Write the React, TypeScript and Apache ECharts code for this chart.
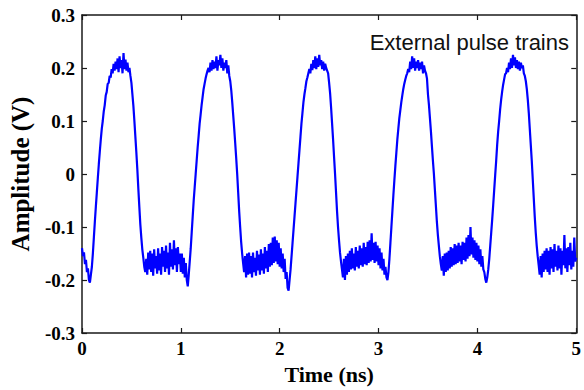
import React, { useEffect, useRef } from "react";
import * as echarts from "echarts";

// Sampling step of the trace (ns)
const STEP = 0.01;

// Amplitude (V) per 1-ns period, sampled every 0.01 ns
const period0 = [
  -0.14, -0.155, -0.148, -0.17, -0.162, -0.185, -0.178, -0.2, -0.205, -0.19,
  -0.175, -0.15, -0.12, -0.09, -0.062, -0.035, -0.008, 0.018, 0.042, 0.065,
  0.085, 0.1, 0.118, 0.13, 0.148, 0.155, 0.17, 0.172, 0.185, 0.182,
  0.198, 0.19, 0.208, 0.195, 0.212, 0.198, 0.218, 0.192, 0.222, 0.2,
  0.215, 0.19, 0.228, 0.198, 0.216, 0.195, 0.21, 0.192, 0.2, 0.185,
  0.172, 0.15, 0.128, 0.1, 0.07, 0.04, 0.008, -0.028, -0.062, -0.095,
  -0.12, -0.142, -0.158, -0.175, -0.185, -0.16, -0.19, -0.148, -0.18, -0.145,
  -0.185, -0.15, -0.192, -0.142, -0.178, -0.155, -0.188, -0.14, -0.182, -0.15,
  -0.19, -0.138, -0.175, -0.145, -0.185, -0.135, -0.178, -0.148, -0.19, -0.13,
  -0.175, -0.142, -0.18, -0.125, -0.172, -0.14, -0.185, -0.138, -0.17, -0.15,
];
const period1 = [
  -0.185, -0.15, -0.188, -0.158, -0.195, -0.168, -0.2, -0.212, -0.19, -0.165,
  -0.14, -0.11, -0.08, -0.05, -0.025, 0.0, 0.025, 0.05, 0.072, 0.095,
  0.112, 0.13, 0.145, 0.16, 0.17, 0.18, 0.188, 0.195, 0.2, 0.192,
  0.21, 0.195, 0.215, 0.198, 0.212, 0.2, 0.222, 0.195, 0.215, 0.205,
  0.225, 0.2, 0.218, 0.195, 0.21, 0.2, 0.215, 0.19, 0.205, 0.185,
  0.175, 0.158, 0.135, 0.11, 0.085, 0.058, 0.03, 0.0, -0.035, -0.07,
  -0.1, -0.128, -0.15, -0.168, -0.185, -0.155, -0.195, -0.15, -0.19, -0.148,
  -0.188, -0.155, -0.195, -0.148, -0.185, -0.158, -0.192, -0.145, -0.182, -0.152,
  -0.19, -0.142, -0.182, -0.15, -0.188, -0.138, -0.178, -0.145, -0.185, -0.132,
  -0.175, -0.13, -0.172, -0.12, -0.168, -0.118, -0.165, -0.125, -0.17, -0.13,
];
const period2 = [
  -0.175, -0.14, -0.178, -0.15, -0.185, -0.16, -0.198, -0.185, -0.215, -0.22,
  -0.2, -0.18, -0.155, -0.13, -0.105, -0.08, -0.055, -0.03, -0.005, 0.02,
  0.045, 0.07, 0.095, 0.115, 0.135, 0.15, 0.162, 0.175, 0.182, 0.19,
  0.198, 0.19, 0.208, 0.196, 0.215, 0.2, 0.222, 0.198, 0.218, 0.202,
  0.225, 0.205, 0.215, 0.198, 0.212, 0.195, 0.208, 0.2, 0.195, 0.19,
  0.172, 0.152, 0.125, 0.095, 0.065, 0.032, 0.0, -0.035, -0.07, -0.1,
  -0.125, -0.148, -0.165, -0.18, -0.195, -0.16, -0.2, -0.155, -0.19, -0.15,
  -0.185, -0.145, -0.18, -0.14, -0.178, -0.15, -0.182, -0.138, -0.175, -0.145,
  -0.178, -0.135, -0.172, -0.14, -0.175, -0.13, -0.17, -0.138, -0.172, -0.128,
  -0.168, -0.125, -0.165, -0.112, -0.162, -0.13, -0.168, -0.128, -0.165, -0.135,
];
const period3 = [
  -0.172, -0.14, -0.178, -0.148, -0.182, -0.16, -0.19, -0.175, -0.195, -0.2,
  -0.185, -0.16, -0.13, -0.1, -0.07, -0.04, -0.012, 0.015, 0.04, 0.065,
  0.085, 0.105, 0.12, 0.135, 0.148, 0.16, 0.17, 0.178, 0.185, 0.19,
  0.198, 0.192, 0.212, 0.198, 0.222, 0.2, 0.218, 0.195, 0.212, 0.2,
  0.215, 0.195, 0.21, 0.198, 0.212, 0.19, 0.205, 0.195, 0.19, 0.18,
  0.15, 0.13, 0.105, 0.08, 0.052, 0.025, 0.0, -0.03, -0.06, -0.09,
  -0.115, -0.135, -0.155, -0.17, -0.182, -0.155, -0.192, -0.15, -0.185, -0.148,
  -0.182, -0.145, -0.178, -0.138, -0.175, -0.14, -0.172, -0.132, -0.17, -0.135,
  -0.168, -0.13, -0.165, -0.135, -0.17, -0.128, -0.162, -0.13, -0.165, -0.12,
  -0.16, -0.115, -0.155, -0.1, -0.152, -0.12, -0.158, -0.125, -0.162, -0.13,
];
const period4 = [
  -0.165, -0.135, -0.17, -0.142, -0.175, -0.155, -0.18, -0.185, -0.198, -0.205,
  -0.195, -0.18, -0.16, -0.135, -0.11, -0.085, -0.058, -0.03, -0.002, 0.025,
  0.055, 0.08, 0.1, 0.122, 0.14, 0.155, 0.168, 0.178, 0.188, 0.19,
  0.2, 0.192, 0.21, 0.198, 0.218, 0.2, 0.225, 0.205, 0.22, 0.2,
  0.215, 0.198, 0.212, 0.195, 0.21, 0.2, 0.205, 0.19, 0.185, 0.175,
  0.16, 0.14, 0.115, 0.085, 0.055, 0.025, -0.01, -0.045, -0.08, -0.11,
  -0.135, -0.155, -0.172, -0.19, -0.155, -0.195, -0.15, -0.185, -0.145, -0.18,
  -0.14, -0.185, -0.145, -0.19, -0.138, -0.178, -0.142, -0.185, -0.132, -0.175,
  -0.145, -0.182, -0.135, -0.178, -0.14, -0.19, -0.145, -0.172, -0.115, -0.178,
  -0.14, -0.185, -0.138, -0.172, -0.13, -0.18, -0.145, -0.175, -0.12, -0.165,
];
const lastSample = [-0.158];

const xTicks = [0, 1, 2, 3, 4, 5];
const yTicks = [-0.3, -0.2, -0.1, 0, 0.1, 0.2, 0.3];

const xTitle = "Time (ns)";
const yTitle = "Amplitude (V)";
const legendText = "External pulse trains";

const SERIF = "'Liberation Serif', 'Times New Roman', serif";
const SANS = "'Liberation Sans', Arial, sans-serif";

export default function App() {
  const ref = useRef<HTMLDivElement>(null);

  useEffect(() => {
    if (!ref.current) return;
    const chart = echarts.init(ref.current, undefined, { renderer: "svg" });

    const amplitudes = [
      ...period0,
      ...period1,
      ...period2,
      ...period3,
      ...period4,
      ...lastSample,
    ];
    const trace = amplitudes.map((v, i) => [+(i * STEP).toFixed(2), v]);

    const fmt = (v: number) => (Math.abs(v) < 1e-9 ? "0" : v.toFixed(1));

    const axisLine = { show: true, onZero: false, lineStyle: { color: "#1a1a1a", width: 1.5 } };
    const tick = { show: true, inside: true, length: 5, lineStyle: { color: "#1a1a1a", width: 1.2 } };
    const labelStyle = {
      color: "#000",
      fontFamily: SERIF,
      fontWeight: "bold" as const,
      fontSize: 19,
    };

    chart.setOption({
      animation: false,
      backgroundColor: "#fff",
      grid: { left: 81, right: 3, top: 15, bottom: 54, containLabel: false },
      xAxis: [
        {
          type: "value",
          min: xTicks[0],
          max: xTicks[xTicks.length - 1],
          interval: 1,
          position: "bottom",
          axisLine,
          axisTick: tick,
          splitLine: { show: false },
          axisLabel: { ...labelStyle, margin: 6, formatter: (v: number) => String(v) },
          name: xTitle,
          nameLocation: "middle",
          nameGap: 30,
          nameTextStyle: { color: "#000", fontFamily: SERIF, fontWeight: "bold", fontSize: 22 },
        },
        {
          type: "value",
          min: xTicks[0],
          max: xTicks[xTicks.length - 1],
          interval: 1,
          position: "top",
          axisLine,
          axisTick: tick,
          splitLine: { show: false },
          axisLabel: { show: false },
        },
      ],
      yAxis: [
        {
          type: "value",
          min: yTicks[0],
          max: yTicks[yTicks.length - 1],
          interval: 0.1,
          position: "left",
          axisLine,
          axisTick: tick,
          splitLine: { show: false },
          axisLabel: { ...labelStyle, margin: 7, formatter: fmt },
          name: yTitle,
          nameLocation: "middle",
          nameGap: 49,
          nameTextStyle: { color: "#000", fontFamily: SERIF, fontWeight: "bold", fontSize: 25 },
        },
        {
          type: "value",
          min: yTicks[0],
          max: yTicks[yTicks.length - 1],
          interval: 0.1,
          position: "right",
          axisLine,
          axisTick: tick,
          splitLine: { show: false },
          axisLabel: { show: false },
        },
      ],
      series: [
        {
          type: "line",
          data: trace,
          showSymbol: false,
          symbol: "none",
          lineStyle: { color: "#0000ff", width: 2.2 },
          xAxisIndex: 0,
          yAxisIndex: 0,
        },
      ],
      graphic: [
        {
          type: "text",
          x: 569,
          y: 42,
          style: {
            text: legendText,
            fill: "#111",
            font: `22px ${SANS}`,
            align: "right",
            verticalAlign: "middle",
          },
        },
      ],
    });

    return () => chart.dispose();
  }, []);

  return (
    <div
      ref={ref}
      style={{ position: "fixed", left: 0, top: 0, width: 584, height: 390 }}
    />
  );
}
